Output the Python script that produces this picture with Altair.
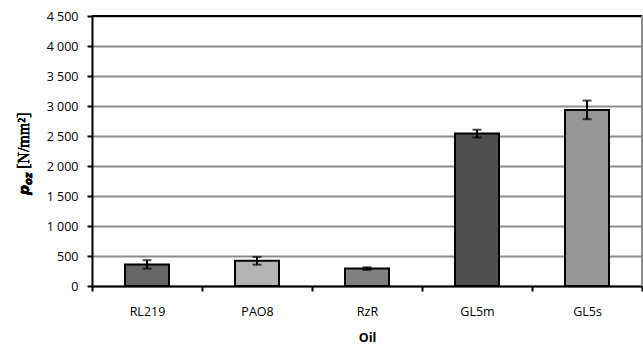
import altair as alt
import pandas as pd

# Oil samples and measured p_oz values [N/mm^2] with their error spans
oils = ["RL219", "PAO8", "RzR", "GL5m", "GL5s"]
p_oz = [360, 420, 290, 2540, 2935]
err = [70, 65, 22, 65, 155]
fills = ["#666666", "#b3b3b3", "#808080", "#4f4f4f", "#969696"]
y_ticks = [0, 500, 1000, 1500, 2000, 2500, 3000, 3500, 4000, 4500]

df = pd.DataFrame({"oil": oils, "p": p_oz, "err": err, "fill": fills})
df["lo"] = df["p"] - df["err"]
df["hi"] = df["p"] + df["err"]

W, H = 550, 270
label_font = "Open Sans"

x_axis = alt.Axis(
    labelAngle=0,
    labelFont=label_font,
    labelFontSize=12.5,
    labelColor="#000000",
    labelPadding=14,
    titleFont=label_font,
    titleFontSize=12.5,
    titleFontWeight="bold",
    titleColor="#000000",
    titlePadding=14,
    tickBand="extent",
    tickSize=5,
    tickWidth=2,
    tickColor="#000000",
    domainColor="#000000",
    domainWidth=2,
    grid=False,
)
y_axis = alt.Axis(
    values=y_ticks,
    labelOverlap=False,
    labelExpr="replace(format(datum.value, ','), ',', ' ')",
    labelFont=label_font,
    labelFontSize=12.5,
    labelColor="#000000",
    labelPadding=9,
    tickSize=5,
    tickWidth=2,
    tickColor="#000000",
    domainColor="#000000",
    domainWidth=2,
    grid=True,
    gridColor="#8c8c8c",
    gridWidth=2,
)
x_scale = alt.Scale(paddingInner=0, paddingOuter=0)
y_scale = alt.Scale(domain=[0, 4500], nice=False)


def xenc():
    return alt.X("oil:N", sort=oils, title="Oil", scale=x_scale, axis=x_axis)


def yenc(field):
    return alt.Y(field, scale=y_scale, title=None, axis=y_axis)


bars = alt.Chart(df).mark_bar(
    width={"band": 0.4}, stroke="#000000", strokeWidth=2
).encode(x=xenc(), y=yenc("p:Q"), fill=alt.Fill("fill:N", scale=None))

whisker = alt.Chart(df).mark_rule(color="#000000", strokeWidth=2).encode(
    x=xenc(), y=yenc("lo:Q"), y2="hi:Q"
)
cap_hi = alt.Chart(df).mark_tick(
    color="#000000", thickness=2, size=9, orient="horizontal"
).encode(x=xenc(), y=yenc("hi:Q"))
cap_lo = alt.Chart(df).mark_tick(
    color="#000000", thickness=2, size=9, orient="horizontal"
).encode(x=xenc(), y=yenc("lo:Q"))

# Frame: black top edge, grey right edge
top_edge = alt.Chart(df).mark_rule(color="#000000", strokeWidth=2).encode(
    x=alt.value(0), x2=alt.value(W), y=alt.value(0)
)
right_edge = alt.Chart(df).mark_rule(color="#8c8c8c", strokeWidth=1.5).encode(
    x=alt.value(W), y=alt.value(0), y2=alt.value(H)
)

# Y axis title: bold italic p with subscript "oz", then the unit in serif
ty_base = alt.Chart(df)
t_p = ty_base.mark_text(
    text="p", font="DejaVu Sans", fontSize=14, fontWeight="bold", fontStyle="italic",
    angle=270, align="left", baseline="middle", color="#000000",
).encode(x=alt.value(-67), y=alt.value(179))
t_oz = ty_base.mark_text(
    text="oz", font="DejaVu Sans", fontSize=10, fontWeight="bold", fontStyle="italic",
    angle=270, align="left", baseline="middle", color="#000000",
).encode(x=alt.value(-63), y=alt.value(169))
t_unit = ty_base.mark_text(
    text="[N/mm²]", font="Liberation Serif", fontSize=16,
    angle=270, align="left", baseline="middle", color="#000000",
).encode(x=alt.value(-68), y=alt.value(153))

chart = (
    alt.layer(bars, whisker, cap_hi, cap_lo, top_edge, right_edge, t_p, t_oz, t_unit)
    .properties(
        width=W,
        height=H,
        autosize=alt.AutoSizeParams(type="none"),
        padding={"left": 92, "top": 16, "right": 1, "bottom": 61},
        background="#ffffff",
    )
    .configure_view(stroke=None)
)

chart.save("out.html", embed_options={"renderer": "svg", "actions": False})
